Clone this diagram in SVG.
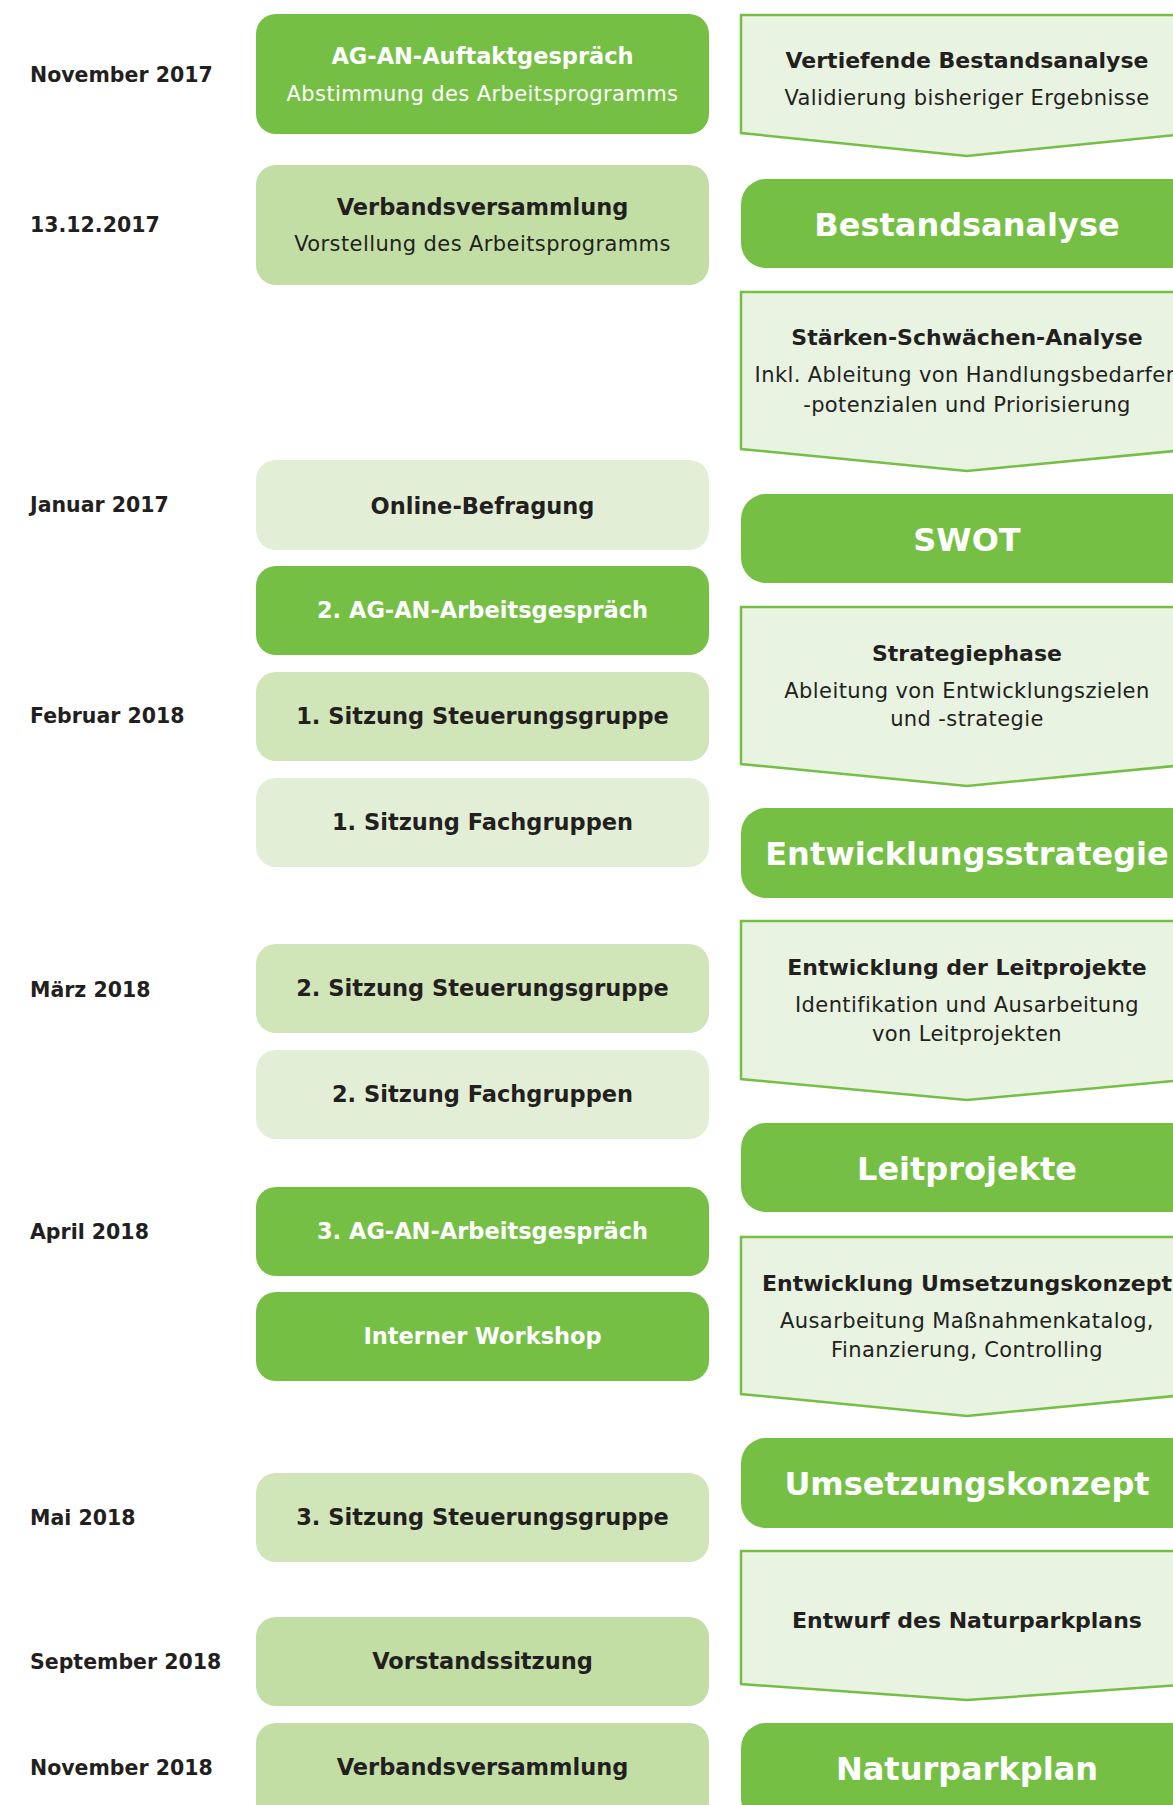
<svg xmlns="http://www.w3.org/2000/svg" width="1173" height="1805" viewBox="0 0 1173 1805">
<style>
text{font-family:"DejaVu Sans","Liberation Sans",sans-serif;fill:#231f20}
.d{font-size:20.5px;font-weight:bold}
.t{font-size:22.5px;font-weight:bold;text-anchor:middle}
.pt{font-size:22px;font-weight:bold;text-anchor:middle}
.s{font-size:21px;text-anchor:middle;letter-spacing:0.4px}
.big{font-size:32px;font-weight:bold;text-anchor:middle;fill:#fff}
.w{fill:#fff}
.g1{fill:#76bf45}
.g2{fill:#c2dea5}
.g3{fill:#d0e5b8}
.g4{fill:#e2efd6}
.pent{fill:#e8f3e1;stroke:#76bf45;stroke-width:2.5;stroke-linejoin:miter}
</style>
<rect width="1173" height="1805" fill="#fff"/>

<g id="dates">
<text class="d" x="30" y="82">November 2017</text>
<text class="d" x="30" y="232">13.12.2017</text>
<text class="d" x="30" y="512">Januar 2017</text>
<text class="d" x="30" y="723">Februar 2018</text>
<text class="d" x="30" y="997">März 2018</text>
<text class="d" x="30" y="1239">April 2018</text>
<text class="d" x="30" y="1525">Mai 2018</text>
<text class="d" x="30" y="1669">September 2018</text>
<text class="d" x="30" y="1775">November 2018</text>
</g>

<g id="left-1"><rect class="g1" x="256" y="14" width="453" height="120" rx="20"/>
<text class="t w" x="482.5" y="64">AG-AN-Auftaktgespräch</text>
<text class="s w" x="482.5" y="101">Abstimmung des Arbeitsprogramms</text></g>
<g id="left-2"><rect class="g2" x="256" y="165" width="453" height="120" rx="20"/>
<text class="t" x="482.5" y="215">Verbandsversammlung</text>
<text class="s" x="482.5" y="251">Vorstellung des Arbeitsprogramms</text></g>
<g id="left-3"><rect class="g4" x="256" y="460" width="453" height="90" rx="20"/>
<text class="t" x="482.5" y="514">Online-Befragung</text></g>
<g id="left-4"><rect class="g1" x="256" y="566" width="453" height="89" rx="20"/>
<text class="t w" x="482.5" y="618">2. AG-AN-Arbeitsgespräch</text></g>
<g id="left-5"><rect class="g3" x="256" y="672" width="453" height="89" rx="20"/>
<text class="t" x="482.5" y="724">1. Sitzung Steuerungsgruppe</text></g>
<g id="left-6"><rect class="g4" x="256" y="778" width="453" height="89" rx="20"/>
<text class="t" x="482.5" y="830">1. Sitzung Fachgruppen</text></g>
<g id="left-7"><rect class="g3" x="256" y="944" width="453" height="89" rx="20"/>
<text class="t" x="482.5" y="996">2. Sitzung Steuerungsgruppe</text></g>
<g id="left-8"><rect class="g4" x="256" y="1050" width="453" height="89" rx="20"/>
<text class="t" x="482.5" y="1102">2. Sitzung Fachgruppen</text></g>
<g id="left-9"><rect class="g1" x="256" y="1187" width="453" height="89" rx="20"/>
<text class="t w" x="482.5" y="1239">3. AG-AN-Arbeitsgespräch</text></g>
<g id="left-10"><rect class="g1" x="256" y="1292" width="453" height="89" rx="20"/>
<text class="t w" x="482.5" y="1344">Interner Workshop</text></g>
<g id="left-11"><rect class="g3" x="256" y="1473" width="453" height="89" rx="20"/>
<text class="t" x="482.5" y="1525">3. Sitzung Steuerungsgruppe</text></g>
<g id="left-12"><rect class="g2" x="256" y="1617" width="453" height="89" rx="20"/>
<text class="t" x="482.5" y="1669">Vorstandssitzung</text></g>
<g id="left-13"><rect class="g2" x="256" y="1723" width="453" height="100" rx="20"/>
<text class="t" x="482.5" y="1775">Verbandsversammlung</text></g>

<g id="right-A"><polygon class="pent" points="741,15 1195,15 1195,133 967,156 741,133"/>
<text class="pt" x="967" y="68">Vertiefende Bestandsanalyse</text>
<text class="s" x="967" y="105">Validierung bisheriger Ergebnisse</text></g>
<g id="right-B"><rect class="g1" x="741" y="179" width="460" height="89" rx="25"/>
<text class="big" x="967" y="236">Bestandsanalyse</text></g>
<g id="right-C"><polygon class="pent" points="741,292 1195,292 1195,449 967,471 741,449"/>
<text class="pt" x="967" y="345">Stärken-Schwächen-Analyse</text>
<text class="s" x="967" y="382">Inkl. Ableitung von Handlungsbedarfen</text>
<text class="s" x="967" y="412">-potenzialen und Priorisierung</text></g>
<g id="right-D"><rect class="g1" x="741" y="494" width="460" height="89" rx="25"/>
<text class="big" x="967" y="551">SWOT</text></g>
<g id="right-E"><polygon class="pent" points="741,607 1195,607 1195,764 967,786 741,764"/>
<text class="pt" x="967" y="661">Strategiephase</text>
<text class="s" x="967" y="698">Ableitung von Entwicklungszielen</text>
<text class="s" x="967" y="726">und -strategie</text></g>
<g id="right-F"><rect class="g1" x="741" y="808" width="460" height="90" rx="25"/>
<text class="big" x="967" y="865">Entwicklungsstrategie</text></g>
<g id="right-G"><polygon class="pent" points="741,921 1195,921 1195,1079 967,1100 741,1079"/>
<text class="pt" x="967" y="975">Entwicklung der Leitprojekte</text>
<text class="s" x="967" y="1012">Identifikation und Ausarbeitung</text>
<text class="s" x="967" y="1041">von Leitprojekten</text></g>
<g id="right-H"><rect class="g1" x="741" y="1123" width="460" height="89" rx="25"/>
<text class="big" x="967" y="1180">Leitprojekte</text></g>
<g id="right-I"><polygon class="pent" points="741,1237 1195,1237 1195,1394 967,1416 741,1394"/>
<text class="pt" x="967" y="1291">Entwicklung Umsetzungskonzept</text>
<text class="s" x="967" y="1328">Ausarbeitung Maßnahmenkatalog,</text>
<text class="s" x="967" y="1357">Finanzierung, Controlling</text></g>
<g id="right-J"><rect class="g1" x="741" y="1438" width="460" height="90" rx="25"/>
<text class="big" x="967" y="1495">Umsetzungskonzept</text></g>
<g id="right-K"><polygon class="pent" points="741,1551 1195,1551 1195,1684 967,1700 741,1684"/>
<text class="pt" x="967" y="1628">Entwurf des Naturparkplans</text></g>
<g id="right-L"><rect class="g1" x="741" y="1723" width="460" height="100" rx="25"/>
<text class="big" x="967" y="1780">Naturparkplan</text></g>

<g id="connectors"></g>
</svg>
